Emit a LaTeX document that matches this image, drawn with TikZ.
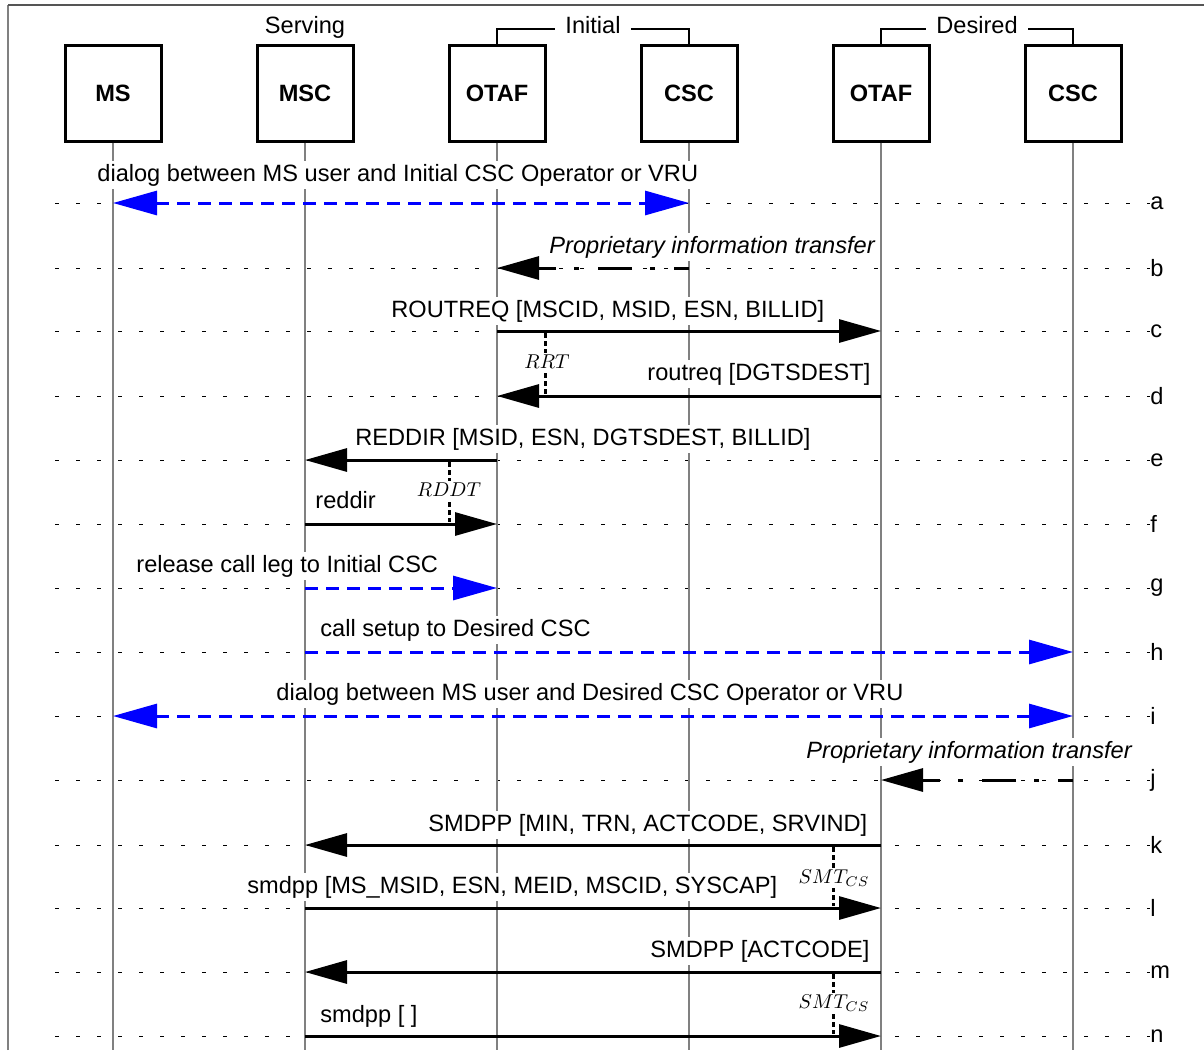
\documentclass[tikz,border=0pt]{standalone}
\usepackage{fontspec}
\setmainfont{Liberation Sans}
\usetikzlibrary{arrows.meta, positioning, calc}
\definecolor{clrLife}{HTML}{808080}
\definecolor{clrFlow}{HTML}{0000FF}
\definecolor{clrFrame}{HTML}{555555}

\begin{document}
\begin{tikzpicture}[
    x=0.5pt, y=-0.5pt,
    entity/.style={rectangle, draw=black, line width=1.5pt, minimum width=48pt, minimum height=48pt, inner sep=0pt, font=\fontsize{11.8}{14}\selectfont\bfseries},
    grplbl/.style={anchor=base, inner xsep=5pt, inner ysep=0pt, font=\fontsize{11.8}{14}\selectfont},
    grp/.style={line width=1.2pt, black},
    life/.style={line width=1pt, clrLife},
    rowline/.style={line width=0.5pt, black, dash pattern=on 2pt off 8.5pt},
    rowlbl/.style={anchor=west, inner sep=0pt, font=\fontsize{11.8}{14}\selectfont},
    msg/.style={-{Triangle[length=21pt, width=11.5pt]}, line width=1.5pt},
    prop/.style={msg, dash pattern=on 17pt off 9.5pt on 2.5pt off 9pt, dash phase=9.5pt},
    flow/.style={-{Triangle[length=22pt, width=12pt]}, line width=1.5pt, clrFlow, dash pattern=on 6.5pt off 4pt},
    biflow/.style={flow, {Triangle[length=22pt, width=12pt]}-{Triangle[length=22pt, width=12pt]}},
    lbl/.style={anchor=base west, fill=white, inner sep=1.5pt, font=\fontsize{11.8}{14}\selectfont},
    ilbl/.style={lbl, font=\fontsize{11.8}{14}\selectfont\itshape},
    timer/.style={line width=1.5pt, dash pattern=on 2.5pt off 1.5pt},
    tlbl/.style={fill=white, inner sep=1pt, font=\fontsize{10}{12}\selectfont},
]
\useasboundingbox (0,0) rectangle (1204,1050);

% frame
\draw[line width=1pt, clrLife] (8,1050) -- (8,5);
\draw[line width=1pt, clrFrame] (8,5) -- (1204,5);

% rows
\foreach \r/\y in {a/203, b/268, c/331, d/396, e/460, f/524, g/588, h/652, i/716, j/780, k/845, l/908, m/972, n/1036} {
  \coordinate (r\r) at (55,\y);
  \node[rowlbl] (l\r) at (1150,\y) {\r};
  \draw[rowline] (r\r) -- (l\r.west);
}

% entities
\node[entity] (ms) at (113,93) {MS};
\node[entity] (msc) at (305,93) {MSC};
\node[entity] (otafi) at (497,93) {OTAF};
\node[entity] (csci) at (689,93) {CSC};
\node[entity] (otafd) at (881,93) {OTAF};
\node[entity] (cscd) at (1073,93) {CSC};

\node[grplbl] (serving) at (305,33) {Serving};
\node[grplbl] (initial) at (593,33) {Initial};
\node[grplbl] (desired) at (977,33) {Desired};
\draw[grp] (otafi.north) |- ([yshift=2pt]initial.base west);
\draw[grp] ([yshift=2pt]initial.base east) -| (csci.north);
\draw[grp] (otafd.north) |- ([yshift=2pt]desired.base west);
\draw[grp] ([yshift=2pt]desired.base east) -| (cscd.north);

% lifelines
\coordinate (bot) at (0,1050);
\draw[life] (ms.south) -- (ms |- bot);
\draw[life] (msc.south) -- (msc |- bot);
\draw[life] (otafi.south) -- (otafi |- bot);
\draw[life] (csci.south) -- (csci |- bot);
\draw[life] (otafd.south) -- (otafd |- bot);
\draw[life] (cscd.south) -- (cscd |- bot);

% timers
\coordinate (rrt) at (545,0);
\coordinate (rddt) at (449,0);
\coordinate (smt) at (833,0);
\draw[timer] ([yshift=-1pt]rrt |- rc) -- ([yshift=1pt]rrt |- rd);
\draw[timer] ([yshift=-1pt]rddt |- re) -- ([yshift=1pt]rddt |- rf);
\draw[timer] ([yshift=-1pt]smt |- rk) -- ([yshift=1pt]smt |- rl);
\draw[timer] ([yshift=-1pt]smt |- rm) -- ([yshift=1pt]smt |- rn);
\node[tlbl] (trrt) at (547,362) {$RRT$};
\node[tlbl] (trddt) at (449,490) {$RDDT$};
\node[tlbl] (tsmt1) at (834,878) {$SMT_{CS}$};
\node[tlbl] (tsmt2) at (834,1003) {$SMT_{CS}$};

% messages
\draw[biflow] (ms |- ra) -- (csci |- ra);
\node[lbl] (la) at (94,181) {dialog between MS user and Initial CSC Operator or VRU};
\draw[prop] (csci |- rb) -- (otafi |- rb);
\node[ilbl] (lb) at (546,253) {Proprietary information transfer};
\draw[msg] (otafi |- rc) -- (otafd |- rc);
\node[lbl] (lc) at (388,317) {ROUTREQ [MSCID, MSID, ESN, BILLID]};
\draw[msg] (otafd |- rd) -- (otafi |- rd);
\node[lbl] (ld) at (644,380) {routreq [DGTSDEST]};
\draw[msg] (otafi |- re) -- (msc |- re);
\node[lbl] (le) at (352,445) {REDDIR [MSID, ESN, DGTSDEST, BILLID]};
\draw[msg] (msc |- rf) -- (otafi |- rf);
\node[lbl] (lf) at (312,508) {reddir};
\draw[flow] (msc |- rg) -- (otafi |- rg);
\node[lbl] (lg) at (133,572) {release call leg to Initial CSC};
\draw[flow] (msc |- rh) -- (cscd |- rh);
\node[lbl] (lh) at (317,636) {call setup to Desired CSC};
\draw[biflow] (ms |- ri) -- (cscd |- ri);
\node[lbl] (li) at (273,700) {dialog between MS user and Desired CSC Operator or VRU};
\draw[prop] (cscd |- rj) -- (otafd |- rj);
\node[ilbl] (lj) at (803,758) {Proprietary information transfer};
\draw[msg] (otafd |- rk) -- (msc |- rk);
\node[lbl] (lk) at (425,831) {SMDPP [MIN, TRN, ACTCODE, SRVIND]};
\draw[msg] (msc |- rl) -- (otafd |- rl);
\node[lbl] (ll) at (244,893) {smdpp [MS\_MSID, ESN, MEID, MSCID, SYSCAP]};
\draw[msg] (otafd |- rm) -- (msc |- rm);
\node[lbl] (lm) at (647,957) {SMDPP [ACTCODE]};
\draw[msg] (msc |- rn) -- (otafd |- rn);
\node[lbl] (ln) at (317,1022) {smdpp [ ]};

\end{tikzpicture}
\end{document}
